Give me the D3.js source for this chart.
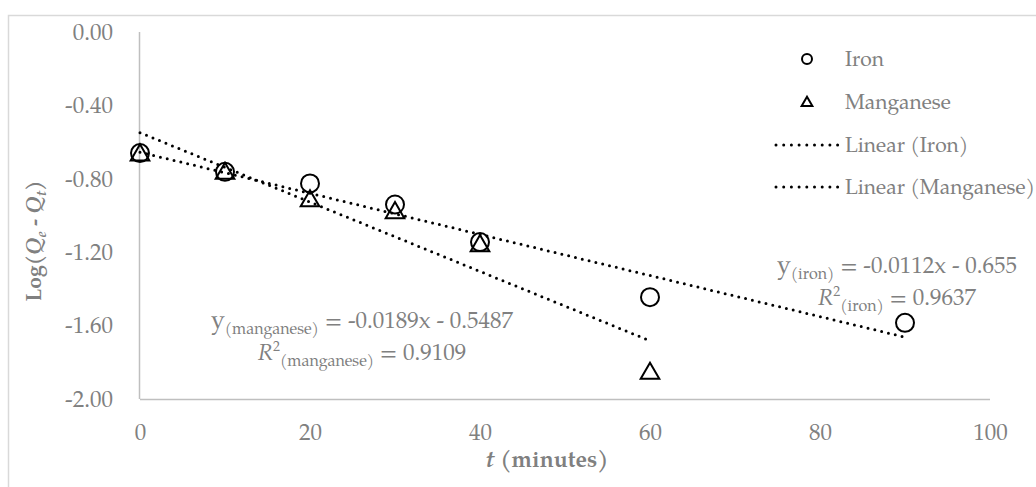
<!DOCTYPE html>
<html>
<head>
<meta charset="utf-8">
<script src="https://cdn.jsdelivr.net/npm/d3@7"></script>
<style>
  body { margin: 0; background: #fff; }
  svg { display: block; font-family: "TeX Gyre Pagella", "URW Palladio L", "Palatino Linotype", "Book Antiqua", Palatino, "Liberation Serif", serif; }
</style>
</head>
<body>
<div id="chart"></div>
<script>
// values
const ironTime = [0, 10, 20, 30, 40, 60, 90];
const ironLog = [-0.66, -0.762, -0.825, -0.94, -1.145, -1.445, -1.585];
const manganeseTime = [0, 10, 20, 30, 40, 60];
const manganeseLog = [-0.665, -0.765, -0.915, -0.98, -1.16, -1.855];

// fitted lines as printed on the chart
const trendNames = ["Iron", "Manganese"];
const trendSlope = [-0.0112, -0.0189];
const trendIntercept = [-0.655, -0.5487];
const trendRange = [[0, 90], [0, 60]];

const xTicks = [0, 20, 40, 60, 80, 100];
const yTicks = [0, -0.4, -0.8, -1.2, -1.6, -2.0];

const width = 1036, height = 487;
const grey = "#808080";

const svg = d3.select("#chart")
  .append("svg")
  .attr("width", width)
  .attr("height", height);

// chart frame (only top and left edges are visible)
svg.append("path")
  .attr("d", `M8.5,${height} V15.5 H${width}`)
  .attr("fill", "none")
  .attr("stroke", "#d9d9d9")
  .attr("stroke-width", 1.5);

const x = d3.scaleLinear().domain([0, 100]).range([140, 990]);
const y = d3.scaleLinear().domain([-2, 0]).range([399, 32]);

// plain hyphen instead of unicode minus, like the original
const fmt2 = d => d3.format(".2f")(d).replace("\u2212", "-");

// axes
const xAxis = svg.append("g")
  .attr("transform", `translate(0,${y(-2)})`)
  .call(d3.axisBottom(x).tickValues(xTicks).tickSize(0).tickPadding(25).tickFormat(d3.format("d")));

const yAxis = svg.append("g")
  .attr("transform", `translate(${x(0)},0)`)
  .call(d3.axisLeft(y).tickValues(yTicks).tickSize(0).tickPadding(27).tickFormat(fmt2));

[xAxis, yAxis].forEach(g => {
  g.attr("font-family", null).attr("font-size", null);
  g.select(".domain").attr("stroke", "#bfbfbf").attr("stroke-width", 1.5);
  g.selectAll("text")
    .attr("fill", grey)
    .style("font-size", "23px");
});
xAxis.select(".domain").attr("d", `M${x(0)},0.5H${x(100)}`);
yAxis.select(".domain").attr("d", `M-0.5,${y(0)}V${y(-2)}`);

// axis titles
const xTitle = svg.append("text")
  .attr("x", 547)
  .attr("y", 467)
  .attr("text-anchor", "middle")
  .attr("fill", grey)
  .attr("font-weight", "bold")
  .style("font-size", "23px");
xTitle.append("tspan").attr("font-style", "italic").text("t");
xTitle.append("tspan").text(" (minutes)");

const yTitle = svg.append("text")
  .attr("transform", "translate(41,241) rotate(-90)")
  .attr("text-anchor", "middle")
  .attr("fill", grey)
  .attr("font-weight", "bold")
  .style("font-size", "21px");
yTitle.append("tspan").text("Log(");
yTitle.append("tspan").attr("font-style", "italic").text("Q");
yTitle.append("tspan").attr("font-style", "italic").attr("dy", 5).style("font-size", "14px").text("e");
yTitle.append("tspan").attr("dy", -5).text(" - ");
yTitle.append("tspan").attr("font-style", "italic").text("Q");
yTitle.append("tspan").attr("font-style", "italic").attr("dy", 5).style("font-size", "14px").text("t");
yTitle.append("tspan").attr("dy", -5).text(")");

const triangle = d3.symbol().type(d3.symbolTriangle);

// markers
svg.append("g").selectAll("circle")
  .data(d3.zip(ironTime, ironLog))
  .join("circle")
  .attr("cx", d => x(d[0]))
  .attr("cy", d => y(d[1]))
  .attr("r", 9)
  .attr("fill", "none")
  .attr("stroke", "#000")
  .attr("stroke-width", 2);

svg.append("g").selectAll("path")
  .data(d3.zip(manganeseTime, manganeseLog))
  .join("path")
  .attr("d", triangle.size(150))
  .attr("transform", d => `translate(${x(d[0])},${y(d[1]) + 1})`)
  .attr("fill", "none")
  .attr("stroke", "#000")
  .attr("stroke-width", 2);

// linear trendlines
const line = d3.line().x(d => x(d[0])).y(d => y(d[1]));
svg.append("g").selectAll("path")
  .data(trendNames.map((n, i) => trendRange[i].map(t => [t, trendSlope[i] * t + trendIntercept[i]])))
  .join("path")
  .attr("d", line)
  .attr("fill", "none")
  .attr("stroke", "#000")
  .attr("stroke-width", 3)
  .attr("stroke-linecap", "round")
  .attr("stroke-dasharray", "0 7");

// equations
function equation(cx, y1, y2, sub, eq, r2) {
  const t1 = svg.append("text")
    .attr("x", cx).attr("y", y1)
    .attr("text-anchor", "middle")
    .attr("fill", grey)
    .style("font-size", "23px");
  t1.append("tspan").style("font-size", "25px").text("y");
  t1.append("tspan").attr("dy", 6).style("font-size", "16px").text(`(${sub})`);
  t1.append("tspan").attr("dy", -6).text(` = ${eq}`);

  const t2 = svg.append("text")
    .attr("x", cx).attr("y", y2)
    .attr("text-anchor", "middle")
    .attr("fill", grey)
    .style("font-size", "23px");
  t2.append("tspan").attr("font-style", "italic").text("R");
  t2.append("tspan").attr("dy", -9).style("font-size", "14px").text("2");
  t2.append("tspan").attr("dy", 15).style("font-size", "16px").text(`(${sub})`);
  t2.append("tspan").attr("dy", -6).text(` = ${r2}`);
}
equation(897, 273, 305, "iron", "-0.0112x - 0.655", "0.9637");
equation(362, 328, 360, "manganese", "-0.0189x - 0.5487", "0.9109");

// legend
const legendLabels = ["Iron", "Manganese", "Linear (Iron)", "Linear (Manganese)"];
const legendY = [59, 102, 145, 187];
const legend = svg.append("g");
legendLabels.forEach((label, i) => {
  const ly = legendY[i];
  if (i === 0) {
    legend.append("circle").attr("cx", 807).attr("cy", ly).attr("r", 5)
      .attr("fill", "none").attr("stroke", "#000").attr("stroke-width", 2);
  } else if (i === 1) {
    legend.append("path").attr("d", triangle.size(50)())
      .attr("transform", `translate(807,${ly + 1})`)
      .attr("fill", "none").attr("stroke", "#000").attr("stroke-width", 2);
  } else {
    legend.append("line").attr("x1", 776).attr("x2", 838).attr("y1", ly).attr("y2", ly)
      .attr("stroke", "#000").attr("stroke-width", 3)
      .attr("stroke-linecap", "round").attr("stroke-dasharray", "0 7.7");
  }
  legend.append("text")
    .attr("x", 845).attr("y", ly).attr("dy", "0.33em")
    .attr("fill", grey)
    .style("font-size", "21px")
    .text(label);
});
</script>
</body>
</html>
